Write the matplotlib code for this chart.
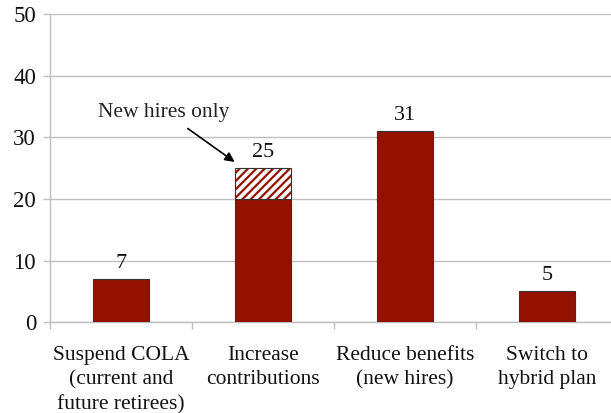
import matplotlib.pyplot as plt

# --- Data ---
categories = ['Suspend COLA\n(current and\nfuture retirees)', 'Increase\ncontributions',
              'Reduce benefits\n(new hires)', 'Switch to\nhybrid plan']
base_values = [7, 20, 31, 5]
new_hires_only = [0, 5, 0, 0]
totals = [b + n for b, n in zip(base_values, new_hires_only)]

red = '#941100'
plt.rcParams['font.family'] = ['Liberation Serif', 'DejaVu Serif']
plt.rcParams['hatch.linewidth'] = 1.6

fig = plt.figure(figsize=(6.11, 4.13), dpi=100)
ax = fig.add_axes([0.0818, 0.22, 0.9182, 0.746])

x = list(range(len(categories)))
ax.bar(x, base_values, width=0.4, color=red, edgecolor='#333333', linewidth=0.8, zorder=3)
# hatched "new hires only" segment: hatch takes the edge colour, outline redrawn on top
ax.bar(x, new_hires_only, bottom=base_values, width=0.4, color='white',
       edgecolor=red, hatch='////', linewidth=0, zorder=3)
ax.bar(x, new_hires_only, bottom=base_values, width=0.4, fill=False,
       edgecolor=['#333333' if n else 'none' for n in new_hires_only], linewidth=0.8, zorder=4)

for xi, t in zip(x, totals):
    ax.text(xi, t + 1.0, str(t), ha='center', va='bottom', fontsize=16, color='#111111')

ax.annotate('New hires only', xy=(0.8, 26.0), xytext=(0.3, 32.4),
            fontsize=15.5, color='#222222', ha='center', va='bottom',
            arrowprops=dict(arrowstyle='-|>', color='black', lw=1.2, mutation_scale=14,
                            shrinkA=4, shrinkB=0, relpos=(0.62, 0.0)))

ax.set_ylim(0, 50)
ax.set_xlim(-0.5, 3.45)
ax.set_yticks(range(0, 51, 10))
ax.yaxis.grid(True, color='#bfbfbf', linewidth=1.0, zorder=0)
ax.set_axisbelow(True)

ax.set_xticks([i - 0.5 for i in x])
ax.set_xticklabels([])
ax.set_xticks(x, minor=True)
ax.set_xticklabels(categories, minor=True, fontsize=15.5, color='#111111', linespacing=1.38)
ax.tick_params(axis='x', which='minor', length=0, pad=17)
ax.tick_params(axis='x', which='major', length=5, color='#bfbfbf', width=1)
ax.tick_params(axis='y', length=5, color='#bfbfbf', width=1, labelsize=16.5, labelcolor='#111111', pad=5)

for s in ['top', 'right']:
    ax.spines[s].set_visible(False)
ax.spines['left'].set_color('#bfbfbf')
ax.spines['bottom'].set_color('#bfbfbf')
ax.spines['left'].set_linewidth(1)
ax.spines['bottom'].set_linewidth(1)

fig.savefig('out.png', dpi=100)
